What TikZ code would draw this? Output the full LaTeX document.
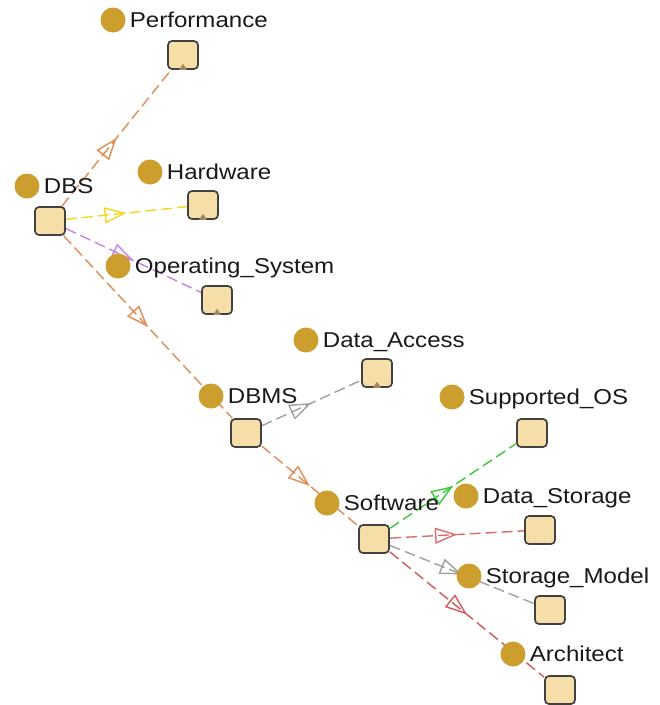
\documentclass[tikz,border=0pt]{standalone}
\usepackage{fontspec}
\setmainfont[FakeStretch=1.12]{Liberation Sans}
\usetikzlibrary{arrows.meta,decorations.markings}
\pgfdeclarelayer{background}
\pgfsetlayers{background,main}

\definecolor{boxfill}{RGB}{245,222,168}
\definecolor{boxline}{RGB}{65,65,65}
\definecolor{dotcol}{RGB}{204,158,46}
\definecolor{stubcol}{RGB}{160,136,96}
\definecolor{textcol}{RGB}{25,25,25}
\definecolor{eorange}{RGB}{225,140,85}
\definecolor{eyellow}{RGB}{245,215,30}
\definecolor{epurple}{RGB}{200,130,230}
\definecolor{egray}{RGB}{160,160,160}
\definecolor{egreen}{RGB}{60,200,60}
\definecolor{epink}{RGB}{215,110,110}
\definecolor{ered}{RGB}{210,90,90}

\tikzset{
  gbox/.style={draw=boxline, fill=boxfill, rounded corners=4pt, line width=1.7pt,
    minimum width=30pt, minimum height=28pt, inner sep=0pt},
  gdot/.style={circle, fill=dotcol, minimum size=25pt, inner sep=0pt},
  lbl/.style={anchor=west, font=\fontsize{21.5}{24}\selectfont, text=textcol,
    inner sep=0pt, text height=15pt, text depth=4pt},
  link/.style={line width=1.4pt, dash pattern=on 11pt off 5pt, postaction={decorate},
    decoration={markings, mark=at position 0.5 with
      {\arrow[solid]{Triangle[open,length=22pt,width=16pt]}}}},
  stub/.style={fill=stubcol, draw=none}
}

% concept: box, dot and label
\newcommand\cnode[6]{%
  \node[gbox] (#1) at (#2,#3) {};
  \node[gdot] (#1d) at (#4,#5) {};
  \node[lbl] (#1l) at ([xshift=4pt,yshift=-2pt]#1d.east) {#6};}
% small marker at the bottom of a box
\newcommand\cstub[1]{%
  \fill[stub] ([xshift=-4pt]#1.south) -- ([xshift=4pt]#1.south) -- ([yshift=6pt]#1.south) -- cycle;}

\begin{document}
\begin{tikzpicture}[x=1pt,y=-1pt]
\path[use as bounding box] (0,0) rectangle (660,705);

\cnode{perf}{183}{55}{113}{20}{Performance}
\cnode{dbs}{50}{221}{27}{186}{DBS}
\cnode{hw}{203}{205}{150}{172}{Hardware}
\cnode{os}{217}{300}{118}{266}{Operating\_System}
\cnode{da}{377}{373}{306}{340}{Data\_Access}
\cnode{dbms}{246}{433}{211}{396}{DBMS}
\cnode{sos}{532}{433}{452}{397}{Supported\_OS}
\cnode{sw}{374}{539}{327}{503}{Software}
\cnode{ds}{540}{530}{466}{496}{Data\_Storage}
\cnode{sm}{550}{610}{469}{576}{Storage\_Model}
\cnode{arch}{560}{690}{513}{654}{Architect}

\cstub{perf}
\cstub{hw}
\cstub{os}
\cstub{da}

\begin{pgfonlayer}{background}
\draw[link, eorange] (dbs) -- (perf);
\draw[link, eyellow] (dbs) -- (hw);
\draw[link, epurple] (dbs) -- (os);
\draw[link, eorange] (dbs) -- (dbms);
\draw[link, egray] (dbms) -- (da);
\draw[link, eorange] (dbms) -- (sw);
\draw[link, egreen] (sw) -- (sos);
\draw[link, epink] (sw) -- (ds);
\draw[link, egray] (sw) -- (sm);
\draw[link, ered] (sw) -- (arch);
\end{pgfonlayer}
\end{tikzpicture}
\end{document}
